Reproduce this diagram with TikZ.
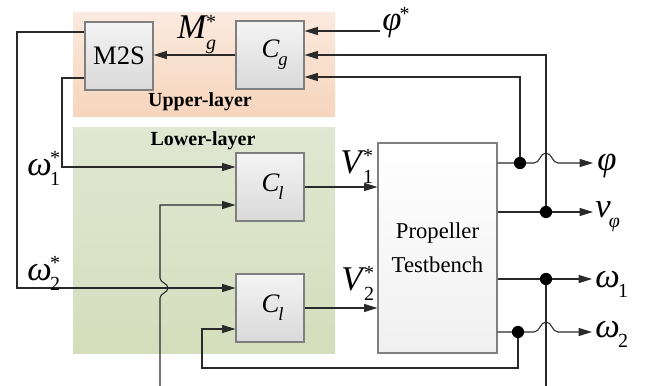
\documentclass[tikz,border=0pt]{standalone}
\usepackage{fontspec}
\setmainfont{LiberationSerif}[Extension=.ttf, UprightFont=*-Regular, BoldFont=*-Bold, ItalicFont=*-Italic, BoldItalicFont=*-BoldItalic]
\usetikzlibrary{arrows.meta,calc}
\definecolor{uptop}{HTML}{FBEADF}
\definecolor{upbot}{HTML}{F6D5BC}
\definecolor{lotop}{HTML}{E0E7D2}
\definecolor{lobot}{HTML}{D4DEBC}
\definecolor{boxtop}{HTML}{F4F4F4}
\definecolor{boxbot}{HTML}{D9D9D9}
\definecolor{boxline}{HTML}{7F7F7F}
\definecolor{propbot}{HTML}{F0F0F0}
\definecolor{wirec}{HTML}{2A2A2A}
\newcommand\ssl[4][15]{#2\kern-0.05em\makebox[0pt][l]{\raisebox{-0.3em}{\fontsize{#1}{#1}\selectfont #3}}\raisebox{0.3em}{\fontsize{#1}{#1}\selectfont #4}}
\begin{document}
\begin{tikzpicture}[x=0.75pt,y=-0.75pt]
\tikzset{
 blk/.style={draw=boxline, line width=0.8pt, top color=boxtop, bottom color=boxbot,
   minimum width=51pt, minimum height=51pt, inner sep=0pt, font=\fontsize{20}{20}\selectfont},
 wire/.style={draw=wirec, line width=0.8pt},
 arr/.style={wire, -{Triangle[length=10pt,width=6pt]}},
 lbl/.style={anchor=base west, inner sep=0pt, font=\fontsize{26}{26}\selectfont},
 dot/.style={fill=black},
 layerlbl/.style={inner sep=0pt, font=\bfseries\fontsize{15}{15}\selectfont},
}
\useasboundingbox (0,0) rectangle (648,385);
% layers
\path[top color=uptop, bottom color=upbot] (73,13) rectangle (335,116);
\path[top color=lotop, bottom color=lobot] (73,127) rectangle (335,353);
\node[layerlbl] (uplbl) at (200,102) {Upper-layer};
\node[layerlbl] (lolbl) at (203,141) {Lower-layer};
% blocks
\node[blk] (m2s) at (119,56) {M2S};
\node[blk] (cg) at (270,55) {\ssl[14]{\textit{C}}{\textit{g}}{}};
\node[blk] (cl1) at (270,187) {\ssl[14]{\textit{C}}{\textit{l}}{}};
\node[blk] (cl2) at (270,308) {\ssl[14]{\textit{C}}{\textit{l}}{}};
\node[draw=boxline, line width=0.8pt, top color=white, bottom color=propbot,
  minimum width=89.25pt, minimum height=157.5pt, inner sep=0pt, align=center,
  font=\fontsize{17}{25.5}\selectfont] (prop) at (437.5,248) {Propeller\\Testbench};
% coordinates
\coordinate (phiin) at (380,31);
\coordinate (pdot) at (520,163);
\coordinate (vdot) at (546,212);
\coordinate (w1dot) at (546,279);
\coordinate (w2dot) at (518,332);
\coordinate (pend) at (593,163);
\coordinate (vend) at (593,212);
\coordinate (w1end) at (592,279);
\coordinate (w2end) at (592,332);
\coordinate (w1bot) at (546,386);
\coordinate (w1botL) at (160,386);
% upper layer wires
\draw[arr] (cg.west) -- (cg.west -| m2s.east);
\draw[arr] (phiin) -- (phiin -| cg.east);
\draw[arr] (vdot) |- (cg.east);
\draw[arr] (pdot) |- ($(cg.east)+(0,22)$);
% M2S outputs
\draw[arr] ($(m2s.west)+(0,-24)$) -| (17,288) -- ($(cl2.west)+(0,-20)$);
\draw[arr] ($(m2s.west)+(0,22)$) -| (62,167) -- ($(cl1.west)+(0,-20)$);
% controllers to testbench
\draw[arr] (cl1.east) -- (cl1.east -| prop.west);
\draw[arr] (cl2.east) -- (cl2.east -| prop.west);
% outputs
\draw[arr] (prop.east |- pdot) -- (pdot) -- (534,163) .. controls (540,163) and (540,153) .. (546,153) .. controls (552,153) and (552,163) .. (558,163) -- (pend);
\draw[arr] (prop.east |- vdot) -- (vend);
\draw[arr] (prop.east |- w1dot) -- (w1end);
\draw[arr] (prop.east |- w2dot) -- (w2dot) -- (534,332) .. controls (540,332) and (540,322) .. (546,322) .. controls (552,322) and (552,332) .. (558,332) -- (w2end);
% feedbacks
\draw[wire] (w1dot) -- (w1bot);
\draw[arr] (w1botL) -- (160,298) .. controls (160,293) and (168,293) .. (168,288) .. controls (168,283) and (160,283) .. (160,278) |- ($(cl1.west)+(0,18)$);
\draw[arr] (w2dot) |- (202,368) |- ($(cl2.west)+(0,21)$);
% dots
\fill[dot] (pdot) circle (4.6pt);
\fill[dot] (vdot) circle (4.6pt);
\fill[dot] (w1dot) circle (4.6pt);
\fill[dot] (w2dot) circle (4.6pt);
% labels
\node[lbl] (mglbl) at (177,39) {\ssl{\textit{M}}{\textit{g}}{*}};
\node[lbl] (phirefl) at (382,31) {\ssl{\textit{φ}}{}{*}};
\node[lbl] (w1slbl) at (27,175) {\ssl{\textit{ω}}{1}{*}};
\node[lbl] (w2slbl) at (27,280) {\ssl{\textit{ω}}{2}{*}};
\node[lbl] (v1lbl) at (340,173) {\ssl{\textit{V}}{1}{*}};
\node[lbl] (v2lbl) at (341,290) {\ssl{\textit{V}}{2}{*}};
\node[lbl] (philbl) at (597,170) {\textit{φ}};
\node[lbl] (vlbl) at (595,217) {\ssl{\textit{v}}{\textit{φ}}{}};
\node[lbl] (w1lbl) at (595,287) {\ssl{\textit{ω}}{1}{}};
\node[lbl] (w2lbl) at (595,337) {\ssl{\textit{ω}}{2}{}};
\end{tikzpicture}
\end{document}
